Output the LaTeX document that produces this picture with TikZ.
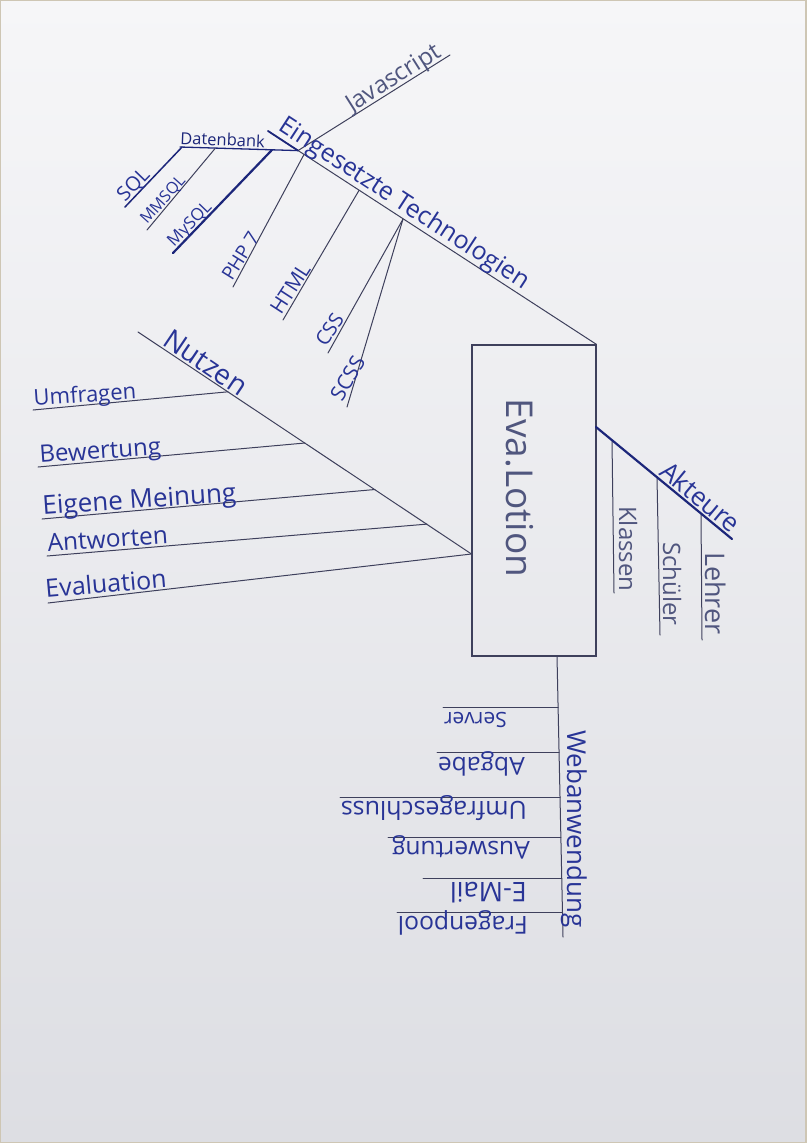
\documentclass[tikz,border=0pt]{standalone}
\usepackage{fontspec}
\setmainfont{Open Sans}
\newcommand{\handsize}[1]{\fontsize{#1}{#1}\selectfont}
\definecolor{paperTop}{RGB}{246,246,248}
\definecolor{paperBot}{RGB}{221,222,227}
\definecolor{paperEdge}{RGB}{206,198,180}
\definecolor{linegrey}{RGB}{62,64,92}
\definecolor{inkblue}{RGB}{40,52,150}
\definecolor{inkgrey}{RGB}{80,86,126}
\definecolor{inkdark}{RGB}{28,38,122}
\begin{document}
\begin{tikzpicture}[x=1pt,y=-1pt,
  ln/.style={draw=linegrey, line width=1pt, line cap=round},
  heavy/.style={draw=inkdark, line width=2.2pt, line cap=round},
  medium/.style={draw=inkdark, line width=1.5pt, line cap=round},
  lbl/.style={inner sep=0pt, text=inkblue, anchor=base west},
  gl/.style={lbl, text=inkgrey}]

% paper
\useasboundingbox (0,0) rectangle (806,1143);
\shade[top color=paperTop, bottom color=paperBot] (0,0) rectangle (806,1143);
\draw[paperEdge, line width=2pt] (0,0) rectangle (806,1143);

% central box
\node[draw=linegrey, line width=1.1pt, minimum width=124pt, minimum height=311pt,
      inner sep=0pt] (box) at (534,500.5) {};
\node[inner sep=0pt, text=inkgrey, rotate=-90, font=\handsize{37}] (evatitle) at (520,488) {Eva.Lotion};

% ---------- Eingesetzte Technologien ----------
\coordinate (tA) at (268,131);
\coordinate (jn) at (298,150.6);
\coordinate (jsE) at (450,55);
\coordinate (dbW) at (180,147);
\coordinate (sqlT) at (182,147.1);  \coordinate (sqlB) at (125,207);
\coordinate (mmT) at (215,148.6);   \coordinate (mmB) at (147,230);
\coordinate (myT) at (272,149.9);   \coordinate (myB) at (173,253);
\coordinate (phpT) at (304,154.5);  \coordinate (phpB) at (233,287);
\coordinate (htT) at (359,190.4);   \coordinate (htB) at (283,320);
\coordinate (csT) at (403,219.1);   \coordinate (cssB) at (328,353);
\coordinate (scssB) at (347,407);

\draw[ln] (tA) -- (box.north east);
\draw[heavy, line width=1.8pt] (tA) -- (jn);
\draw[ln] (jn) -- (jsE);
\draw[medium, line width=1.3pt] (dbW) -- (jn);
\draw[medium] (sqlT) -- (sqlB);
\draw[ln] (mmT) -- (mmB);
\draw[heavy] (myT) -- (myB);
\draw[ln] (phpT) -- (phpB);
\draw[ln] (htT) -- (htB);
\draw[ln] (csT) -- (cssB);
\draw[ln] (csT) -- (scssB);

\node[gl, rotate=32.3, font=\handsize{24}] (tjs) at (352,113) {Javascript};
\node[lbl, text=inkdark, rotate=-2.4, font=\handsize{16.5}] (tdb) at (180,144) {Datenbank};
\node[lbl, rotate=-33.1, font=\handsize{25}] (ttech) at (277,129.5) {Eingesetzte Technologien};
\node[lbl, rotate=46, font=\handsize{20}] (tsql) at (125,203) {SQL};
\node[lbl, rotate=48, font=\handsize{16}] (tmm) at (147,225) {MMSQL};
\node[lbl, rotate=46, font=\handsize{17}] (tmy) at (174,248) {MySQL};
\node[lbl, rotate=58, font=\handsize{19}] (tphp) at (232,282) {PHP 7};
\node[lbl, rotate=57, font=\handsize{20.5}] (thtml) at (281,316) {HTML};
\node[lbl, rotate=57, font=\handsize{20}] (tcss) at (326,348) {CSS};
\node[lbl, rotate=60, font=\handsize{21}] (tscss) at (342,403) {SCSS};

% ---------- Nutzen ----------
\coordinate (nuA) at (138,332);
\coordinate (umW) at (33,410);  \coordinate (umE) at (228,391.8);
\coordinate (bwW) at (38,467);  \coordinate (bwE) at (305,443.0);
\coordinate (eiW) at (42,519);  \coordinate (eiE) at (375,489.5);
\coordinate (anW) at (47,556);  \coordinate (anE) at (427,524.1);
\coordinate (evW) at (48,603);

\draw[ln] (nuA) -- (box.west |- 0,554) coordinate (nuB);
\draw[ln] (umW) -- (umE);
\draw[ln] (bwW) -- (bwE);
\draw[ln] (eiW) -- (eiE);
\draw[ln] (anW) -- (anE);
\draw[ln] (evW) -- (nuB);

\node[lbl, rotate=-34, font=\handsize{28}] (tnutzen) at (161,344) {Nutzen};
\node[lbl, rotate=4, font=\handsize{22}] (tumf) at (34,406) {Umfragen};
\node[lbl, rotate=4, font=\handsize{24}] (tbew) at (40,463) {Bewertung};
\node[lbl, rotate=4, font=\handsize{26}] (teig) at (43,515) {Eigene Meinung};
\node[lbl, rotate=4, font=\handsize{24.5}] (tant) at (48,552) {Antworten};
\node[lbl, rotate=5, font=\handsize{25}] (teva) at (46,598) {Evaluation};

% ---------- Akteure ----------
\coordinate (akA) at (596,427);
\coordinate (akB) at (732,539);
\coordinate (klT) at (612,440.2);  \coordinate (klB) at (614,593);
\coordinate (scT) at (657,477.2);  \coordinate (scB) at (660,635);
\coordinate (leT) at (701,513.5);  \coordinate (leB) at (702,640);

\draw[ln] (klT) -- (klB);
\draw[ln] (scT) -- (scB);
\draw[ln] (leT) -- (leB);
\draw[heavy] (akA) -- (akB);

\node[lbl, rotate=-39.5, font=\handsize{26}] (takt) at (658,474) {Akteure};
\node[gl, rotate=-90, font=\handsize{24}] (tkl) at (619,506) {Klassen};
\node[gl, rotate=-90, font=\handsize{24}] (tsch) at (663,542) {Schüler};
\node[gl, rotate=-90, font=\handsize{27}] (tleh) at (705,552) {Lehrer};

% ---------- Webanwendung ----------
\coordinate (weA) at (557,656);
\coordinate (weB) at (563,937);
\coordinate (srvR) at (558.1,707);  \coordinate (srvL) at (443,707);
\coordinate (abgR) at (559.0,752);  \coordinate (abgL) at (437,752);
\coordinate (umsR) at (560.0,797);  \coordinate (umsL) at (340,797);
\coordinate (ausR) at (560.9,837);  \coordinate (ausL) at (388,837);
\coordinate (emR) at (561.7,878);   \coordinate (emL) at (423,878);
\coordinate (fpR) at (562.5,912);   \coordinate (fpL) at (397,912);

\draw[ln] (weA) -- (weB);
\draw[ln] (srvR) -- (srvL);
\draw[ln] (abgR) -- (abgL);
\draw[ln] (umsR) -- (umsL);
\draw[ln] (ausR) -- (ausL);
\draw[ln] (emR) -- (emL);
\draw[ln] (fpR) -- (fpL);

\node[lbl, rotate=-90, font=\handsize{26}] (tweb) at (567,730) {Webanwendung};
\node[lbl, rotate=180, font=\handsize{21}] (tsrv) at (507,712) {Server};
\node[lbl, rotate=180, font=\handsize{24.6}] (tabg) at (525,757) {Abgabe};
\node[lbl, rotate=180, font=\handsize{25}] (tums) at (527,801) {Umfrageschluss};
\node[lbl, rotate=180, font=\handsize{24.6}] (taus) at (530,841) {Auswertung};
\node[lbl, rotate=180, font=\handsize{27}] (tem) at (527,882) {E-Mail};
\node[lbl, rotate=180, font=\handsize{24.7}] (tfp) at (528,916) {Fragenpool};

\end{tikzpicture}
\end{document}
